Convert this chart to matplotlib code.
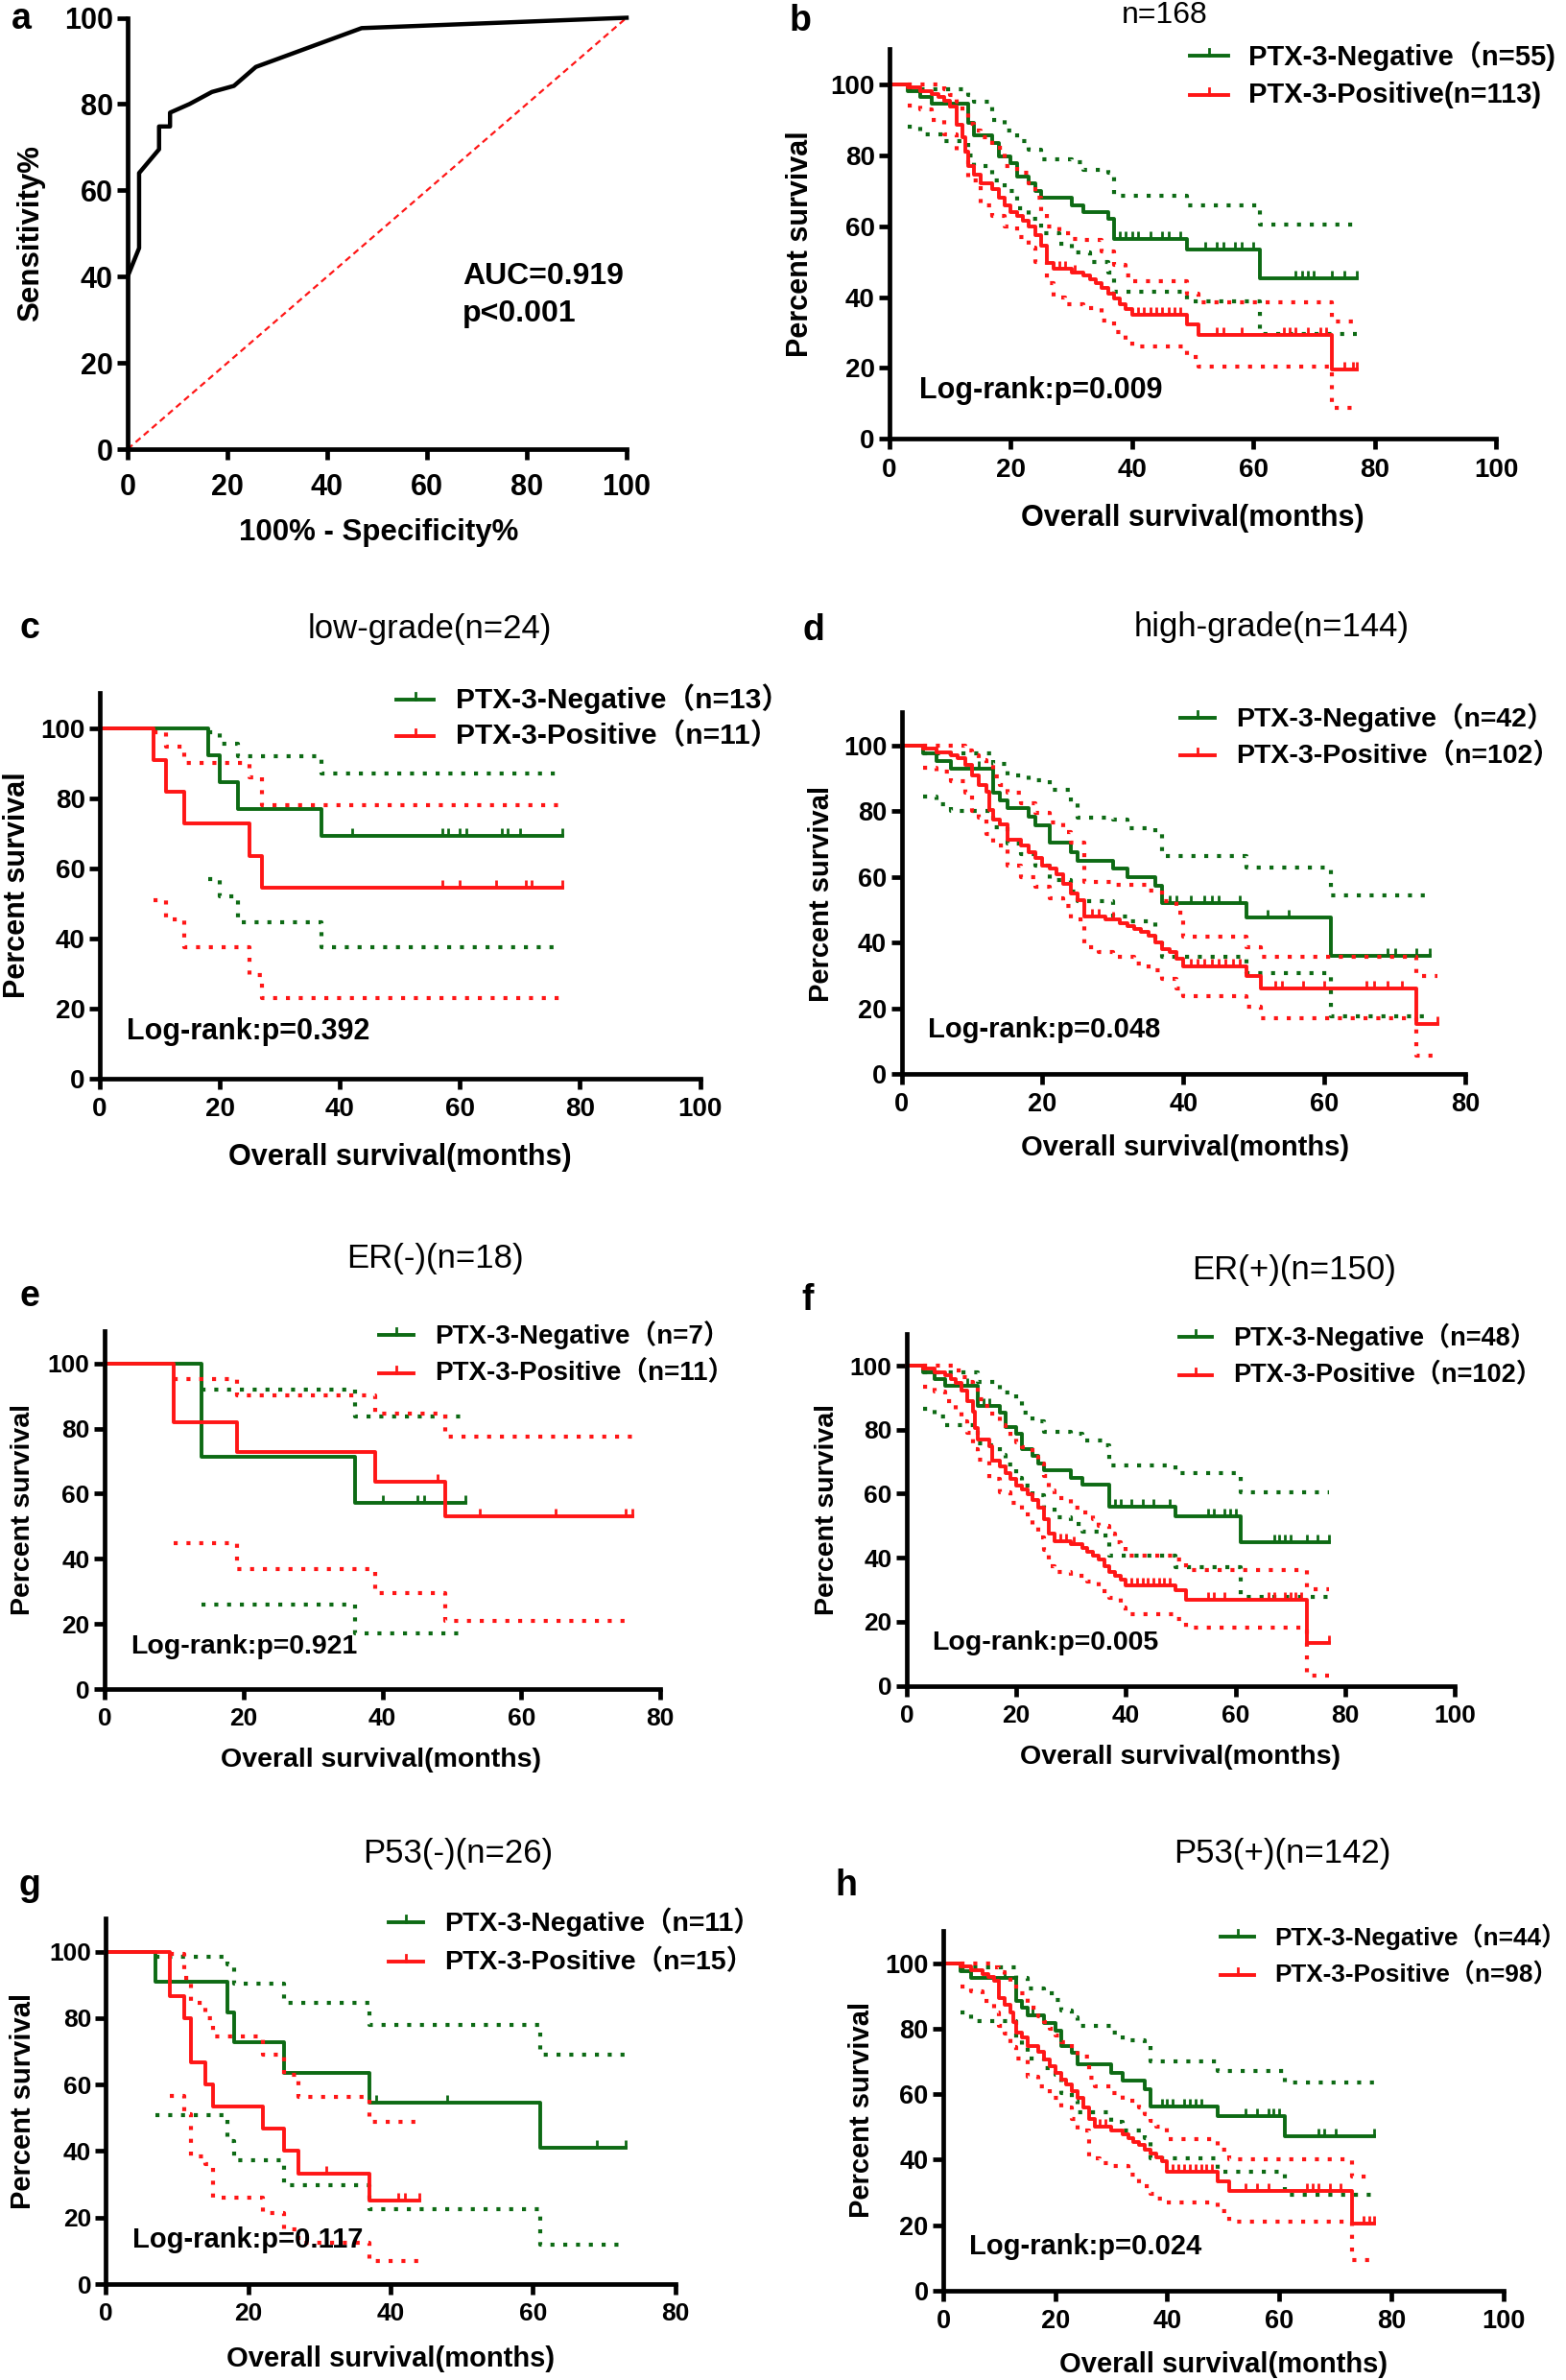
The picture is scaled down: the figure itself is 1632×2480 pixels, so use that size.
import numpy as np
import matplotlib
matplotlib.use('Agg')
import matplotlib.pyplot as plt
from matplotlib.lines import Line2D
from matplotlib.path import Path

plt.rcParams['font.family'] = ['Liberation Sans', 'Noto Sans CJK SC', 'DejaVu Sans']
plt.rcParams['font.weight'] = 'bold'

# ---------------- DATA ----------------
# a: ROC curve
A_FPR = [0, 2.3, 2.3, 6.3, 6.3, 8.5, 8.5, 12.4, 16.9, 21.3, 25.7, 46.9, 100]
A_TPR = [40, 46.6, 64, 69.5, 74.8, 74.8, 78, 80, 82.8, 84.2, 88.6, 97.6, 100]

# b: all patients (n=168)
B_NEG_T = [0, 3, 5, 7, 13, 14, 17, 18, 20, 21, 23, 24, 25, 30, 32, 36, 37, 49, 61]
B_NEG_S = [100, 98.2, 96.4, 94.6, 89.1, 85.5, 83.6, 79.8, 77.8, 73.9, 72.0, 70.0, 68.0, 66.0, 64.0, 62.0, 56.3, 53.4, 45.4]
B_NEG_END = 77
B_NEG_CENS = [38, 39, 40, 41, 43, 45, 46, 48, 52, 54, 55, 57, 58, 60, 67, 68, 69, 70, 73, 75, 77]
B_NEG_HI_T = [3, 13, 14, 17, 19, 21, 23, 25, 30, 32, 36, 37, 49, 61]
B_NEG_HI = [98.5, 97, 95, 90, 87, 84, 81.5, 79, 78, 76, 75, 68.5, 66, 60.4]
B_NEG_LO_T = [3, 5, 9, 13, 14, 17, 19, 21, 23, 25, 28, 30, 33, 36, 37, 49, 61]
B_NEG_LO = [88, 86, 84, 80, 77, 73, 70, 65, 62, 58, 55, 52.5, 50, 47, 41.5, 38.8, 29.5]
B_POS_T = [0, 3, 5, 7, 8, 9, 10, 11, 12, 12.5, 13, 14, 15, 17, 18, 19, 20, 21, 22, 23, 24, 25, 26, 27, 30, 32, 33, 34, 35, 36, 37, 38, 39, 40, 49, 51, 73]
B_POS_S = [100, 99.1, 98.2, 97.3, 96.4, 95.5, 93.8, 88.5, 85.0, 81.0, 77.0, 74.5, 72.0, 70.5, 68.0, 66.0, 64.0, 63.0, 61.5, 60.0, 57.5, 54.5, 49.5, 48.0, 47.0, 46.0, 45.0, 44.0, 42.5, 41.0, 39.5, 38.0, 36.5, 35.0, 32.3, 29.3, 19.6]
B_POS_END = 77
B_POS_CENS = [28, 29, 30.5, 41, 42, 43, 44, 45, 46, 47, 48, 54, 55, 58, 65, 66, 67, 69, 71, 72, 75, 76.5, 77]
B_POS_HI_T = [3, 9, 10, 11, 12, 13, 14, 15, 17, 19, 21, 23, 24, 25, 26, 28, 30, 32, 35, 37, 39, 40, 49, 51, 73]
B_POS_HI = [100, 98.5, 97, 95, 92, 89, 87, 85, 82, 77, 75, 72, 68, 64, 60, 58, 56.5, 56, 53, 49, 46, 44.5, 41, 38.5, 33]
B_POS_LO_T = [3, 5, 7, 9, 11, 13, 15, 17, 19, 21, 23, 24, 26, 27, 29, 32, 35, 37, 39, 40, 49, 51, 73]
B_POS_LO = [94, 93, 90, 86, 81, 73, 66, 63, 60, 57, 54, 50, 44, 40, 38, 37, 33.5, 30, 28, 26, 23, 20.4, 8.7]

# c: low-grade (n=24)
C_NEG_T = [0, 18, 20, 23, 37]
C_NEG_S = [100, 92.3, 84.6, 76.9, 69.2]
C_NEG_END = 77
C_NEG_CENS = [42, 57, 58, 60, 61, 67, 68, 70, 77]
C_NEG_HI_T = [18, 20, 23, 37]
C_NEG_HI = [99, 95.5, 92, 87.2]
C_NEG_LO_T = [18, 20, 23, 37]
C_NEG_LO = [57, 52, 44.5, 37.3]
C_POS_T = [0, 9, 11, 14, 25, 27]
C_POS_S = [100, 90.9, 81.8, 72.7, 63.6, 54.5]
C_POS_END = 77
C_POS_CENS = [57, 60, 66, 71, 72, 77]
C_POS_HI_T = [9, 11, 14, 25, 27]
C_POS_HI = [98.9, 94.8, 90.2, 86, 78]
C_POS_LO_T = [9, 11, 14, 25, 27]
C_POS_LO = [51, 45.5, 37.5, 29.5, 23]

# d: high-grade (n=144)
D_NEG_T = [0, 3, 5, 7, 13, 14, 15, 18, 19, 21, 24, 25, 30, 32, 36, 37, 49, 61]
D_NEG_S = [100, 97.6, 95.2, 92.9, 85.7, 83.3, 80.8, 78.3, 75.8, 70.5, 67.6, 65.0, 62.4, 59.9, 57.2, 52.0, 47.6, 35.8]
D_NEG_END = 75
D_NEG_CENS = [11, 38, 39, 41, 43, 44, 45, 48, 52, 55, 69, 70, 73, 75]
D_NEG_HI_T = [3, 13, 15, 18, 21, 24, 25, 30, 32, 36, 37, 49, 61]
D_NEG_HI = [97.5, 94.3, 91, 89.5, 86.5, 82.3, 78, 77.5, 74.8, 73, 66.3, 62.8, 54.2]
D_NEG_LO_T = [3, 5, 7, 13, 15, 17, 19, 21, 24, 25, 30, 32, 36, 37, 49, 61]
D_NEG_LO = [84.5, 82, 80, 75, 70, 67, 63.5, 59, 55.5, 52.5, 48, 46.5, 41, 35.5, 30.7, 17.5]
D_POS_T = [0, 3, 5, 7, 8, 9, 10, 11, 12, 12.5, 13, 14, 15, 17, 18, 19, 20, 21, 22, 23, 24, 25, 26, 29, 31, 32, 33, 34, 35, 36, 37, 38, 39, 40, 49, 51, 73]
D_POS_S = [100, 99.0, 98.0, 97.0, 96.0, 94.1, 91.0, 88.0, 86.0, 80.4, 77.5, 76.0, 71.4, 69.5, 67.6, 65.7, 63.5, 62.5, 60.8, 57.8, 54.9, 52.9, 48.0, 47.0, 46.0, 45.0, 44.0, 43.2, 42.0, 40.0, 38.0, 37.0, 35.0, 32.8, 29.7, 26.0, 15.3]
D_POS_END = 76
D_POS_CENS = [27, 28, 30, 41, 42, 43, 44, 45, 46, 47, 48, 53, 54, 57, 60, 66, 67, 69, 71, 76]
D_POS_HI_T = [3, 9, 10, 11, 12, 13, 14, 15, 17, 19, 21, 23, 24, 26, 30, 35, 37, 39, 40, 49, 51, 73]
D_POS_HI = [100, 98.5, 97, 95.5, 94, 90.5, 88, 85.5, 82.5, 79.5, 76.5, 73.5, 70.5, 58.5, 57.5, 55.7, 52.5, 49, 41.7, 38.5, 35.6, 29.7]
D_POS_LO_T = [3, 5, 7, 9, 10, 11, 12, 13, 15, 17, 19, 21, 23, 24, 26, 28, 30, 33, 35, 37, 39, 40, 49, 51, 73]
D_POS_LO = [93.2, 92, 89, 85.5, 80, 78, 73, 69.5, 63.5, 60, 57, 53.5, 51, 47, 38.5, 37, 35.5, 33.5, 31.5, 29, 26, 23.7, 20.5, 17, 5.5]

# e: ER(-) (n=18)
E_NEG_T = [0, 14, 36]
E_NEG_S = [100, 71.4, 57.1]
E_NEG_END = 52
E_NEG_CENS = [40, 45, 46, 52]
E_NEG_HI_T = [14, 36]
E_NEG_HI = [91.9, 83.8]
E_NEG_LO_T = [14, 36]
E_NEG_LO = [25.8, 17.1]
E_POS_T = [0, 10, 19, 39, 49]
E_POS_S = [100, 81.8, 72.7, 63.6, 53.0]
E_POS_END = 76
E_POS_CENS = [48, 54, 65, 75, 76]
E_POS_HI_T = [10, 19, 39, 49]
E_POS_HI = [95.3, 90.2, 84.5, 77.4]
E_POS_LO_T = [10, 19, 39, 49]
E_POS_LO = [44.7, 36.8, 29.6, 20.8]

# f: ER(+) (n=150)
F_NEG_T = [0, 3, 5, 7, 13, 17, 18, 20, 21, 23, 24, 25, 30, 32, 37, 49, 61]
F_NEG_S = [100, 97.9, 95.8, 93.8, 87.4, 85.3, 80.8, 78.6, 74.0, 71.7, 69.5, 67.3, 65.0, 62.7, 55.8, 53.0, 44.9]
F_NEG_END = 77
F_NEG_CENS = [11, 14, 15, 38, 39, 41, 43, 45, 48, 55, 56, 58, 59, 60, 67, 68, 69, 70, 73, 75, 77]
F_NEG_HI_T = [3, 13, 17, 20, 21, 23, 25, 30, 32, 36, 37, 49, 61]
F_NEG_HI = [98, 95, 91.7, 89, 85.3, 82.5, 79.3, 78.7, 76.5, 75, 68.8, 66.3, 60.3]
F_NEG_LO_T = [3, 5, 7, 13, 15, 17, 18, 20, 21, 23, 25, 27, 30, 32, 35, 37, 49, 61]
F_NEG_LO = [86.4, 84, 81.5, 75.8, 75, 72, 69, 65, 62.5, 59.5, 55.5, 52.5, 50.5, 48, 47, 40.7, 37.2, 27.9]
F_POS_T = [0, 3, 5, 7, 8, 9, 10, 11, 12, 12.5, 13, 15, 15.5, 17, 18, 19, 20, 21, 22, 23, 24, 25, 26, 27, 30, 32, 33, 34, 35, 36, 37, 38, 39, 40, 49, 51, 73]
F_POS_S = [100, 99.0, 98.0, 97.0, 95.8, 94.5, 92.2, 89.0, 85.5, 80.5, 76.8, 74.7, 70.2, 68.5, 66.4, 64.7, 62.5, 61.2, 59.8, 58.0, 55.7, 51.9, 47.4, 45.2, 44.3, 43.0, 42.0, 40.8, 39.5, 37.4, 35.5, 34.3, 33.1, 31.5, 30.0, 27.0, 13.5]
F_POS_END = 77
F_POS_CENS = [28, 29, 30.5, 41, 42, 43, 44, 45, 46, 47, 48, 55, 56, 58, 66, 67, 69, 70, 71, 72, 77]
F_POS_HI_T = [3, 9, 10, 11, 12, 13, 14, 15, 17, 18, 19, 20, 21, 23, 24, 25, 26, 27, 30, 32, 34, 35, 37, 38, 39, 40, 49, 51, 73]
F_POS_HI = [100, 98.5, 96.5, 95, 93, 89.5, 87.5, 85, 81.5, 79.5, 77.8, 76, 74.5, 71.5, 69.5, 65.5, 61, 58.5, 55.5, 54, 52, 50, 47.5, 45, 43.5, 40.8, 39.5, 36.3, 30.2]
F_POS_LO_T = [3, 5, 7, 9, 10, 11, 12, 13, 15, 17, 19, 21, 23, 24, 25, 26, 27, 30, 33, 35, 37, 39, 40, 49, 51, 73]
F_POS_LO = [93.3, 92, 89, 85.5, 82.5, 79, 74, 70.5, 64.5, 60.5, 57, 53.5, 49.5, 46.5, 42.5, 37.5, 35.5, 34.5, 32.5, 29.5, 27.5, 24.5, 22.5, 21, 18.1, 3.3]

# g: P53(-) (n=26)
G_NEG_T = [0, 7, 17, 18, 25, 37, 61]
G_NEG_S = [100, 90.9, 81.8, 72.7, 63.6, 54.5, 40.9]
G_NEG_END = 73
G_NEG_CENS = [38, 48, 69, 73]
G_NEG_HI_T = [7, 17, 18, 25, 37, 61]
G_NEG_HI = [98.5, 96, 90.5, 84.5, 78, 69]
G_NEG_LO_T = [7, 17, 18, 25, 37, 61]
G_NEG_LO = [50.8, 43, 37.2, 29.8, 22.6, 11.7]
G_POS_T = [0, 9, 11, 12, 14, 15, 22, 25, 27, 37]
G_POS_S = [100, 86.7, 80.0, 66.7, 60.0, 53.3, 46.7, 40.0, 33.3, 25.0]
G_POS_END = 44
G_POS_CENS = [31, 41, 42, 44]
G_POS_HI_T = [9, 11, 12, 14, 15, 22, 25, 27, 37]
G_POS_HI = [99.3, 92, 84.5, 80, 74.5, 69, 62.8, 56.3, 48.8]
G_POS_LO_T = [9, 11, 12, 14, 15, 22, 25, 27, 37]
G_POS_LO = [56.5, 51, 38.5, 36, 26, 21.5, 16.5, 12.5, 7]

# h: P53(+) (n=142)
H_NEG_T = [0, 3, 5, 13, 14, 15, 18, 20, 21, 23, 24, 30, 32, 36, 37, 49, 61]
H_NEG_S = [100, 97.7, 95.5, 88.6, 86.4, 84.1, 81.8, 79.5, 74.8, 72.6, 69.1, 66.6, 64.1, 61.5, 56.4, 53.3, 47.3]
H_NEG_END = 77
H_NEG_CENS = [11, 16, 39, 40, 41, 43, 44, 45, 46, 54, 56, 58, 59, 60, 67, 68, 70, 77]
H_NEG_HI_T = [3, 13, 15, 18, 20, 21, 23, 24, 30, 32, 36, 37, 49, 61]
H_NEG_HI = [98.8, 95.5, 92.3, 91, 89, 85.5, 83.5, 81, 79, 76.4, 75, 70, 67.2, 63.5]
H_NEG_LO_T = [3, 5, 13, 14, 15, 18, 20, 21, 23, 24, 30, 32, 36, 37, 49, 61]
H_NEG_LO = [85, 82.5, 77, 74.5, 71, 68, 66, 60.5, 58, 54.5, 51.5, 49, 46.5, 40.5, 36.4, 29.2]
H_POS_T = [0, 3, 5, 7, 8, 9, 10, 11, 12, 12.5, 13, 14, 15, 17, 18, 19, 20, 21, 22, 23, 24, 25, 26, 27, 30, 32, 33, 34, 35, 36, 37, 38, 39, 40, 49, 51, 73]
H_POS_S = [100, 99.0, 98.0, 96.9, 95.9, 94.8, 89.5, 87.3, 85.0, 82.0, 79.0, 77.4, 74.8, 73.0, 70.8, 68.5, 66.5, 64.5, 63.0, 61.0, 58.8, 56.0, 52.4, 50.0, 48.9, 47.8, 46.7, 45.5, 44.4, 43.2, 42.0, 40.8, 39.5, 36.4, 33.3, 30.3, 20.5]
H_POS_END = 77
H_POS_CENS = [28, 29, 41, 42, 43, 44, 45, 46, 47, 48, 54, 56, 58, 65, 66, 67, 69, 71, 75, 76, 77]
H_POS_HI_T = [3, 9, 10, 11, 12, 13, 15, 17, 18, 19, 20, 21, 23, 24, 26, 27, 30, 32, 35, 36, 37, 38, 40, 49, 51, 73]
H_POS_HI = [100, 98.8, 97.4, 96, 94, 91, 86.5, 84, 82, 80, 78, 76, 73.5, 71.5, 65, 62.5, 60.5, 58, 56, 53.8, 52, 50, 46.2, 43.2, 40.2, 34.7]
H_POS_LO_T = [3, 5, 7, 9, 10, 11, 12, 13, 15, 17, 19, 21, 23, 24, 26, 28, 30, 33, 35, 37, 38, 40, 49, 51, 73]
H_POS_LO = [93, 91.5, 88.5, 85, 81, 78.5, 74.5, 71, 65.5, 62.5, 59, 56, 52.5, 49, 40.5, 39, 38, 35.5, 32, 29.5, 28, 26.8, 24.2, 21, 9.3]

TITLES = ['n=168', 'low-grade(n=24)', 'high-grade(n=144)', 'ER(-)(n=18)',
          'ER(+)(n=150)', 'P53(-)(n=26)', 'P53(+)(n=142)']
LEGENDS = [('PTX-3-Negative（n=55)', 'PTX-3-Positive(n=113)'),
           ('PTX-3-Negative（n=13）', 'PTX-3-Positive（n=11）'),
           ('PTX-3-Negative（n=42）', 'PTX-3-Positive（n=102）'),
           ('PTX-3-Negative（n=7）', 'PTX-3-Positive（n=11）'),
           ('PTX-3-Negative（n=48）', 'PTX-3-Positive（n=102）'),
           ('PTX-3-Negative（n=11）', 'PTX-3-Positive（n=15）'),
           ('PTX-3-Negative（n=44）', 'PTX-3-Positive（n=98）')]
PVALUES = ['Log-rank:p=0.009', 'Log-rank:p=0.392', 'Log-rank:p=0.048', 'Log-rank:p=0.921',
           'Log-rank:p=0.005', 'Log-rank:p=0.117', 'Log-rank:p=0.024']
XMAX = [100, 100, 80, 80, 100, 80, 100]

# ---------------- FIGURE ----------------
W, H = 1632, 2480
fig = plt.figure(figsize=(W / 100, H / 100), dpi=100, facecolor='white')

GREEN = '#0d6a14'
RED = '#ff1616'
TICK_UP = Path([(0, 0), (0, 1)])
LW_AX = 3.4


def fx(x):
    return x / W


def fy(y):
    return 1 - y / H


def make_ax(x0, x1, y0, ytop, xmax, ymax, fs, pad=6):
    ax = fig.add_axes([x0 / W, 1 - y0 / H, (x1 - x0) / W, (y0 - ytop) / H])
    ax.set_xlim(0, xmax)
    ax.set_ylim(0, ymax)
    ax.set_xticks(np.arange(0, xmax + 1, 20))
    ax.set_yticks(np.arange(0, 101, 20))
    for s in ('top', 'right'):
        ax.spines[s].set_visible(False)
    for s in ('left', 'bottom'):
        ax.spines[s].set_linewidth(LW_AX)
        ax.spines[s].set_capstyle('projecting')
    ax.tick_params(width=LW_AX, length=8, labelsize=fs)
    ax.tick_params(axis='x', pad=pad)
    ax.tick_params(axis='y', pad=3)
    ax.patch.set_alpha(0)
    return ax


def km(ax, t, s, end, cens, hi_t, hi, lo_t, lo, color):
    for bt, bv in ((hi_t, hi), (lo_t, lo)):
        ax.step(list(bt) + [end], list(bv) + [bv[-1]], where='post', color=color,
                lw=3.0, ls=(0, (1, 2.2)), clip_on=False)
    ax.step(list(t) + [end], list(s) + [s[-1]], where='post', color=color,
            lw=2.8, clip_on=False)
    idx = np.searchsorted(np.array(t, float), np.array(cens, float), side='right') - 1
    cy = np.array(s, float)[idx]
    ax.plot(cens, cy, ls='none', marker=TICK_UP, ms=12, mew=2.0, color=color, clip_on=False)


def legend(labels, ys, lx0, lx1, tx, fs):
    for lab, y, col in zip(labels, ys, (GREEN, RED)):
        fig.add_artist(Line2D([fx(lx0), fx(lx1)], [fy(y), fy(y)], color=col, lw=2.8,
                              transform=fig.transFigure))
        m = (lx0 + lx1) / 2
        fig.add_artist(Line2D([fx(m), fx(m)], [fy(y), fy(y - 7)], color=col, lw=2.0,
                              transform=fig.transFigure))
        fig.text(fx(tx), fy(y), lab, ha='left', va='center', fontsize=fs, weight='bold')


def ftext(x, y, s, fs, weight='bold', rot=0, ha='center'):
    fig.text(fx(x), fy(y), s, ha=ha, va='center', fontsize=fs, weight=weight, rotation=rot)


# ---- panel a: ROC ----
axa = make_ax(133, 653, 468, 18.5, 100, 100, 22, pad=10)
axa.plot([0, 100], [0, 100], color=RED, lw=1.6, ls=(0, (3, 2)), clip_on=False)
axa.plot(A_FPR, A_TPR, color='black', lw=3.2, clip_on=False)
ftext(22, 20, 'a', 27)
ftext(482, 288, 'AUC=0.919', 23, ha='left')
ftext(482, 327, 'p<0.001', 23, ha='left')
ftext(395, 555, '100% - Specificity%', 22.5)
ftext(32, 243, 'Sensitivity%', 22.5, rot=90)

# ---- KM panels ----
LAYOUT = [
    dict(ax=(927, 1559, 457.3, 51), tfs=20, let=('b', 834, 22), tit=(1214, 16, 23),
         leg=((58, 99), 1240, 1280, 1301, 21), p=(958, 407, 22), xl=(1243, 540), yl=(834, 254), lfs=22),
    dict(ax=(104, 729.5, 1123.5, 722.4), tfs=20, let=('c', 31, 655), tit=(448, 655, 25),
         leg=((728.5, 767), 413, 452, 475, 21.5), p=(132, 1075, 22), xl=(417, 1206), yl=(18, 922), lfs=22),
    dict(ax=(939.5, 1527, 1119, 742.5), tfs=19.5, let=('d', 848, 657), tit=(1325, 653, 25),
         leg=((748, 787), 1230, 1266, 1288, 20.5), p=(967, 1073, 21), xl=(1235, 1196), yl=(856, 931), lfs=21),
    dict(ax=(109, 688, 1760, 1386.7), tfs=19, let=('e', 31, 1351), tit=(453, 1311, 25),
         leg=((1391, 1431), 395, 431, 453, 20), p=(136, 1716, 20.5), xl=(397, 1834), yl=(24, 1573), lfs=20.5),
    dict(ax=(945, 1516, 1756.6, 1389.7), tfs=19, let=('f', 842, 1355), tit=(1349, 1323, 25),
         leg=((1393, 1432.6), 1229, 1263, 1285.5, 19.5), p=(971, 1712, 20.5), xl=(1230, 1831), yl=(862, 1573), lfs=20.5),
    dict(ax=(110.5, 703.8, 2380, 1999), tfs=19, let=('g', 31, 1965), tit=(477, 1931, 25),
         leg=((2003, 2044), 405, 441, 463, 20.5), p=(138, 2334, 21), xl=(407, 2458), yl=(24, 2189), lfs=21),
    dict(ax=(983, 1566.7, 2386.7, 2012), tfs=19.5, let=('h', 882, 1965), tit=(1336, 1931, 25),
         leg=((2018, 2057.5), 1272, 1307, 1328, 18.8), p=(1010, 2341, 21), xl=(1275, 2464), yl=(898, 2198), lfs=21),
]

KM_DATA = [
    ((B_NEG_T, B_NEG_S, B_NEG_END, B_NEG_CENS, B_NEG_HI_T, B_NEG_HI, B_NEG_LO_T, B_NEG_LO),
     (B_POS_T, B_POS_S, B_POS_END, B_POS_CENS, B_POS_HI_T, B_POS_HI, B_POS_LO_T, B_POS_LO)),
    ((C_NEG_T, C_NEG_S, C_NEG_END, C_NEG_CENS, C_NEG_HI_T, C_NEG_HI, C_NEG_LO_T, C_NEG_LO),
     (C_POS_T, C_POS_S, C_POS_END, C_POS_CENS, C_POS_HI_T, C_POS_HI, C_POS_LO_T, C_POS_LO)),
    ((D_NEG_T, D_NEG_S, D_NEG_END, D_NEG_CENS, D_NEG_HI_T, D_NEG_HI, D_NEG_LO_T, D_NEG_LO),
     (D_POS_T, D_POS_S, D_POS_END, D_POS_CENS, D_POS_HI_T, D_POS_HI, D_POS_LO_T, D_POS_LO)),
    ((E_NEG_T, E_NEG_S, E_NEG_END, E_NEG_CENS, E_NEG_HI_T, E_NEG_HI, E_NEG_LO_T, E_NEG_LO),
     (E_POS_T, E_POS_S, E_POS_END, E_POS_CENS, E_POS_HI_T, E_POS_HI, E_POS_LO_T, E_POS_LO)),
    ((F_NEG_T, F_NEG_S, F_NEG_END, F_NEG_CENS, F_NEG_HI_T, F_NEG_HI, F_NEG_LO_T, F_NEG_LO),
     (F_POS_T, F_POS_S, F_POS_END, F_POS_CENS, F_POS_HI_T, F_POS_HI, F_POS_LO_T, F_POS_LO)),
    ((G_NEG_T, G_NEG_S, G_NEG_END, G_NEG_CENS, G_NEG_HI_T, G_NEG_HI, G_NEG_LO_T, G_NEG_LO),
     (G_POS_T, G_POS_S, G_POS_END, G_POS_CENS, G_POS_HI_T, G_POS_HI, G_POS_LO_T, G_POS_LO)),
    ((H_NEG_T, H_NEG_S, H_NEG_END, H_NEG_CENS, H_NEG_HI_T, H_NEG_HI, H_NEG_LO_T, H_NEG_LO),
     (H_POS_T, H_POS_S, H_POS_END, H_POS_CENS, H_POS_HI_T, H_POS_HI, H_POS_LO_T, H_POS_LO)),
]

for i, L in enumerate(LAYOUT):
    x0, x1, y0, ytop = L['ax']
    ax = make_ax(x0, x1, y0, ytop, XMAX[i], 110, L['tfs'])
    neg, pos = KM_DATA[i]
    km(ax, *neg, GREEN)
    km(ax, *pos, RED)
    let, lx, ly = L['let']
    ftext(lx, ly, let, 27)
    tx, ty, tfs = L['tit']
    ftext(tx, ty, TITLES[i], tfs, weight='normal')
    rows, lx0, lx1, ltx, lfs = L['leg']
    legend(LEGENDS[i], rows, lx0, lx1, ltx, lfs)
    px, py, pfs = L['p']
    ftext(px, py, PVALUES[i], pfs, ha='left')
    ftext(L['xl'][0], L['xl'][1], 'Overall survival(months)', L['lfs'])
    ftext(L['yl'][0], L['yl'][1], 'Percent survival', L['lfs'], rot=90)

fig.savefig('out.png', dpi=100, facecolor='white')
